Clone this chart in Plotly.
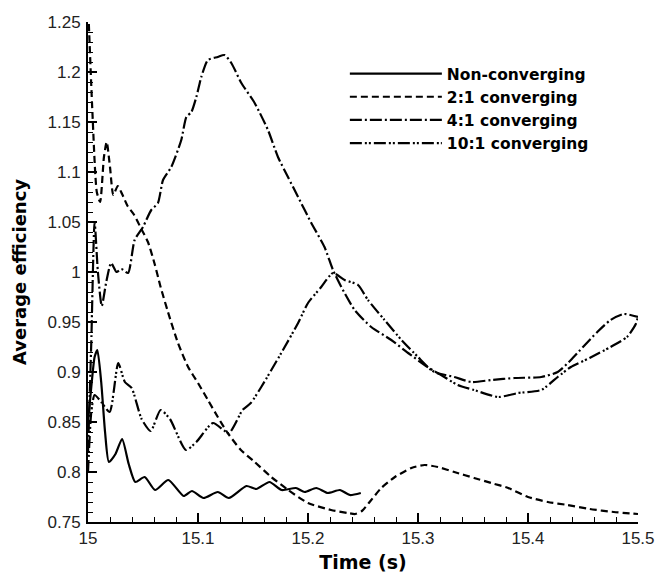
import plotly.graph_objects as go

# ---- data ----
t_non = [15.0, 15.003, 15.006, 15.0085, 15.012, 15.0155, 15.019, 15.025, 15.031, 15.037,
         15.043, 15.0515, 15.061, 15.073, 15.087, 15.0945, 15.105, 15.118, 15.128, 15.144,
         15.153, 15.165, 15.176, 15.189, 15.197, 15.2075, 15.218, 15.229, 15.238, 15.248]
v_non = [0.85, 0.885, 0.915, 0.922, 0.89, 0.84, 0.810, 0.818, 0.833, 0.808,
         0.790, 0.795, 0.782, 0.792, 0.776, 0.781, 0.774, 0.780, 0.774, 0.786,
         0.783, 0.790, 0.782, 0.784, 0.780, 0.784, 0.779, 0.782, 0.777, 0.779]

t_21 = [15.0, 15.004, 15.008, 15.011, 15.0145, 15.017, 15.02, 15.023, 15.027, 15.031,
        15.036, 15.042, 15.048, 15.0545, 15.0606, 15.066, 15.0727, 15.0818, 15.091, 15.1,
        15.109, 15.118, 15.127, 15.139, 15.1515, 15.1666, 15.182, 15.2, 15.221, 15.236,
        15.243, 15.249, 15.2575, 15.2666, 15.279, 15.294, 15.306, 15.318, 15.333, 15.351,
        15.3666, 15.382, 15.4, 15.418, 15.436, 15.456, 15.478, 15.5]
v_21 = [1.27, 1.16, 1.08, 1.07, 1.115, 1.13, 1.105, 1.077, 1.086, 1.078,
        1.066, 1.057, 1.044, 1.03, 1.008, 0.985, 0.96, 0.929, 0.905, 0.889,
        0.872, 0.855, 0.839, 0.822, 0.810, 0.795, 0.782, 0.769, 0.762, 0.759,
        0.758, 0.761, 0.772, 0.784, 0.795, 0.804, 0.807, 0.805, 0.800, 0.794,
        0.789, 0.784, 0.775, 0.770, 0.767, 0.763, 0.760, 0.758]

t_41 = [15.0, 15.003, 15.006, 15.009, 15.0125, 15.0166, 15.021, 15.026, 15.0303, 15.0364,
        15.0424, 15.05, 15.0575, 15.0636, 15.0682, 15.0757, 15.0848, 15.0894, 15.094, 15.0985,
        15.103, 15.109, 15.118, 15.124, 15.1303, 15.1394, 15.1515, 15.1636, 15.1727, 15.1818,
        15.191, 15.203, 15.215, 15.2227, 15.2303, 15.2424, 15.2575, 15.2757, 15.291, 15.306,
        15.318, 15.333, 15.3485, 15.3666, 15.388, 15.412, 15.427, 15.439, 15.45, 15.463,
        15.475, 15.487, 15.5]
v_41 = [0.82, 0.93, 1.05, 1.0, 0.966, 0.99, 1.009, 1.0, 1.003, 0.999,
        1.032, 1.045, 1.062, 1.069, 1.092, 1.105, 1.132, 1.155, 1.160, 1.175,
        1.195, 1.212, 1.215, 1.217, 1.209, 1.189, 1.169, 1.142, 1.115, 1.095,
        1.075, 1.049, 1.025, 1.002, 0.985, 0.962, 0.945, 0.932, 0.919, 0.907,
        0.899, 0.895, 0.890, 0.892, 0.894, 0.895, 0.900, 0.912, 0.925, 0.940,
        0.952, 0.958, 0.955]

t_101 = [15.0, 15.003, 15.006, 15.012, 15.0197, 15.0275, 15.0335, 15.0397, 15.0487, 15.057,
         15.066, 15.0745, 15.089, 15.0985, 15.1136, 15.128, 15.1405, 15.148, 15.1575, 15.1757,
         15.191, 15.2, 15.212, 15.2227, 15.2333, 15.2455, 15.2545, 15.2696, 15.285, 15.30,
         15.312, 15.321, 15.336, 15.351, 15.373, 15.391, 15.412, 15.427, 15.439, 15.456,
         15.475, 15.49, 15.498, 15.5]
v_101 = [0.80, 0.86, 0.877, 0.870, 0.860, 0.909, 0.890, 0.884, 0.853, 0.841,
         0.862, 0.853, 0.822, 0.830, 0.849, 0.839, 0.862, 0.869, 0.885, 0.919,
         0.949, 0.969, 0.985, 0.999, 0.992, 0.987, 0.972, 0.952, 0.932, 0.915,
         0.902, 0.897, 0.887, 0.882, 0.875, 0.879, 0.882, 0.895, 0.905, 0.914,
         0.925, 0.935, 0.948, 0.955]

series = [
    ("Non-converging", t_non, v_non, "solid"),
    ("2:1 converging", t_21, v_21, "7px,4px"),
    ("4:1 converging", t_41, v_41, "12px,3px,2px,3px"),
    ("10:1 converging", t_101, v_101, "12px,3px,2px,2px,2px,3px"),
]

TICK_FONT = "Liberation Sans, Arial, Helvetica, sans-serif"
BOLD_FONT = "DejaVu Sans, Liberation Sans, Arial, sans-serif"

fig = go.Figure()
for name, t, v, dash in series:
    fig.add_trace(go.Scatter(
        x=t, y=v, name=name, mode="lines",
        line=dict(color="black", width=2.2, dash=dash, shape="spline", smoothing=0.6),
    ))

axis_common = dict(
    showline=True, linecolor="black", linewidth=2, mirror=False,
    ticks="inside", ticklen=9, tickwidth=2, tickcolor="black",
    showgrid=False, zeroline=False, automargin=False,
    tickfont=dict(family=TICK_FONT, size=17, color="#222"),
)

fig.update_xaxes(
    range=[15, 15.5], dtick=0.1, tick0=15,
    minor=dict(dtick=0.02, ticks="inside", ticklen=5, tickwidth=1, tickcolor="black"),
    ticklabelstandoff=0,
    title=dict(text="Time (s)", font=dict(family=BOLD_FONT, size=19, color="black", weight="bold"), standoff=13),
    **axis_common,
)
fig.update_yaxes(
    range=[0.75, 1.25], dtick=0.05, tick0=0.75,
    minor=dict(dtick=0.01, ticks="inside", ticklen=5, tickwidth=1, tickcolor="black"),
    ticklabelstandoff=2,
    title=dict(text="Average efficiency", font=dict(family=BOLD_FONT, size=18, color="black", weight="bold"), standoff=16),
    **axis_common,
)

fig.update_layout(
    width=657, height=573,
    margin=dict(l=88, r=19, t=22, b=51),
    paper_bgcolor="white", plot_bgcolor="white",
    showlegend=True,
    legend=dict(
        x=0.467, y=0.93, xanchor="left", yanchor="top",
        bgcolor="rgba(0,0,0,0)", borderwidth=0,
        font=dict(family=BOLD_FONT, size=15.5, color="black", weight="bold"),
        itemwidth=92, tracegroupgap=0,
    ),
)

fig.write_html("out.html")
